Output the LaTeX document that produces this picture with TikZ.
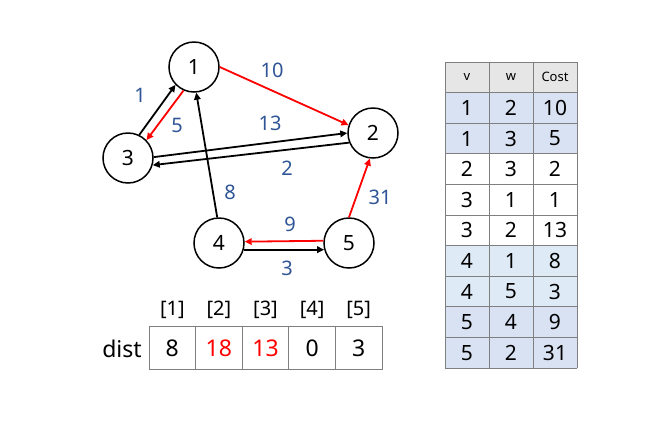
\documentclass[tikz,border=0pt]{standalone}
\usepackage{fontspec}
\setmainfont{Noto Sans}
\usetikzlibrary{arrows.meta}
\definecolor{lblue}{HTML}{2F5597}
\definecolor{redc}{HTML}{FF0000}
\definecolor{hdr}{HTML}{E7E6E6}
\definecolor{bA}{HTML}{D9E2F3}
\definecolor{bB}{HTML}{DEEAF6}
\definecolor{gridc}{HTML}{7F7F7F}
\tikzset{
  vtx/.style={draw, circle, line width=1.5pt, minimum size=50pt, inner sep=0pt, font=\fontsize{21}{24}\selectfont},
  edge/.style={line width=1.8pt, -{Triangle[length=7pt,width=6.5pt]}},
  redge/.style={edge, draw=redc},
  wlab/.style={text=lblue, font=\fontsize{20}{24}\selectfont, inner sep=0pt},
  cell/.style={inner sep=0pt, font=\fontsize{21}{24}\selectfont},
  hcell/.style={inner sep=0pt, font=\fontsize{13}{16}\selectfont},
  dcell/.style={inner sep=0pt, font=\fontsize{23}{27}\selectfont},
  idx/.style={inner sep=0pt, font=\fontsize{20}{24}\selectfont}
}
\begin{document}
\begin{tikzpicture}[x=1pt,y=-1pt]
\useasboundingbox[fill=white] (0,0) rectangle (667,424);
% graph
\node[vtx] (n1) at (194,67) {1};
\node[vtx] (n2) at (373,133) {2};
\node[vtx] (n3) at (128,158) {3};
\node[vtx] (n4) at (219,243) {4};
\node[vtx] (n5) at (349,243) {5};
\draw[edge] (n3.64) -- (n1.224);
\draw[redge] (n1.246) -- (n3.44);
\draw[redge] (n1.0) -- (n2.162);
\draw[edge] (n3.2) -- (n2.180);
\draw[edge] (n2.202) -- (n3.344);
\draw[edge] (n4.94) -- (n1.275);
\draw[redge] (n5.90) -- (n2.263);
\draw[redge] (n5.175) -- (n4.3);
\draw[edge] (n4.345) -- (n5.195);
\node[wlab] (l10) at (272,70) {10};
\node[wlab] (l1) at (140,95) {1};
\node[wlab] (l5) at (177,125) {5};
\node[wlab] (l13) at (270,123) {13};
\node[wlab] (l2) at (287,168) {2};
\node[wlab] (l8) at (230,192) {8};
\node[wlab] (l31) at (380,197) {31};
\node[wlab] (l9) at (290,224) {9};
\node[wlab] (l3) at (287,268) {3};
% table
\fill[hdr] (445,62) rectangle (577,92.6);
\foreach \r/\c in {1/bA,2/bA,6/bB,7/bB,8/bA,9/bA}{
  \fill[\c] (445,{62+30.6*\r}) rectangle (577,{62+30.6*(\r+1)});
}
\foreach \r in {0,...,10}{
  \draw[gridc, line width=0.8pt] (445,{62+30.6*\r}) -- (577,{62+30.6*\r});
}
\foreach \xx in {445,489,533,577}{
  \draw[gridc, line width=0.8pt] (\xx,62) -- (\xx,368);
}
\node[hcell] (hv) at (467,77.3) {v};
\node[hcell] (hw) at (511,77.3) {w};
\node[hcell] (hc) at (555,77.3) {Cost};
\foreach \r/\a/\b/\c in {1/1/2/10,2/1/3/5,3/2/3/2,4/3/1/1,5/3/2/13,6/4/1/8,7/4/5/3,8/5/4/9,9/5/2/31}{
  \node[cell] (ta\r) at (467,{62+30.6*(\r+0.5)}) {\a};
  \node[cell] (tb\r) at (511,{62+30.6*(\r+0.5)}) {\b};
  \node[cell] (tc\r) at (555,{62+30.6*(\r+0.5)}) {\c};
}
% dist array
\foreach \k in {0,...,4}{
  \draw[gridc, line width=0.8pt] ({149+46.6*\k},326) rectangle ({149+46.6*(\k+1)},369);
}
\foreach \k/\v/\col in {1/8/black,2/18/redc,3/13/redc,4/0/black,5/3/black}{
  \node[idx] (i\k) at ({149+46.6*(\k-0.5)},310) {[\k]};
  \node[dcell, text=\col] (d\k) at ({149+46.6*(\k-0.5)},348) {\v};
}
\node[dcell] (dist) at (122,349) {dist};
\end{tikzpicture}
\end{document}
